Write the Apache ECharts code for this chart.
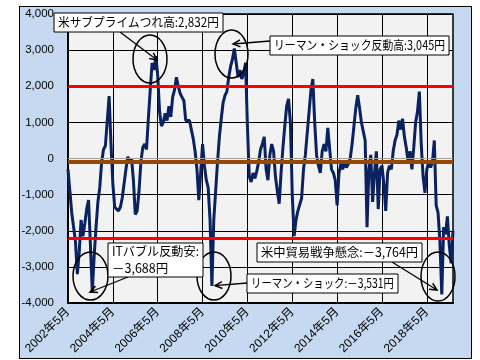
<!DOCTYPE html>
<html><head><meta charset="utf-8">
<script src="https://cdn.jsdelivr.net/npm/echarts@6/dist/echarts.min.js"></script>
<style>
html,body{margin:0;padding:0;background:#fff;}
#frame{position:absolute;left:19px;top:6px;width:451px;height:351px;border:1px solid #000;background:#c6d9f1;}
#chart{position:absolute;left:0;top:0;width:480px;height:360px;}
</style></head><body>
<div id="frame"></div><div id="chart"></div>
<script>
// ---- data ----
const startYear = 2002, startMonth = 5;   // first category: 2002年5月
const values = [
-300,-900,-1500,-1900,-2300,-3200,-2600,-1700,-2150,-1800,
-1400,-1150,-2400,-3688,-2700,-1900,-1200,-800,-100,250,
350,400,1730,400,-700,-1350,-1400,-1450,-1350,-1100,
-700,-300,50,-100,0,-600,-1550,-1450,-900,-100,
300,400,250,1100,1900,2650,2450,2832,2300,1300,
900,1000,1250,1050,1450,1150,1700,1900,2250,2000,
1800,1700,1600,1050,1000,1050,800,550,200,-300,
-1150,-400,400,-200,-600,-800,-1700,-3531,-1700,-900,
-100,600,1100,1550,1750,1850,2250,2550,2750,3045,
2650,2250,2450,2200,2350,2650,900,-500,-650,-400,
-550,-350,-100,250,400,600,-300,-600,100,400,
200,-500,-900,-1250,-400,300,900,1450,1650,1000,
-1000,-2150,-1700,-1450,-1450,-1100,-300,100,700,1300,
1900,2200,1000,100,-200,-400,200,400,200,850,
800,-300,-400,-600,-1300,-400,-150,-300,-100,-250,
-150,0,400,900,1400,1750,1400,1000,950,500,
-1900,-300,100,-1200,-400,200,-1400,-300,-200,-700,
-1450,-400,-200,-300,200,500,650,1050,800,1100,
600,300,-100,200,-300,300,1000,1300,1850,400,
-500,-950,-300,-100,-250,-100,500,-1300,-1500,-2300,
-3764,-1900,-2100,-1600,-2400,-2900,-2000
];
const meanValue = -100;
const upperBand = 2000;
const lowerBand = -2200;
const yMin = -4000, yMax = 4000, yStep = 1000;
const annotationTexts = [
  ['米サブプライムつれ高:2,832円'],
  ['リーマン・ショック反動高:3,045円'],
  ['ITバブル反動安:', '－3,688円'],
  ['リーマン・ショック:－3,531円'],
  ['米中貿易戦争懸念:－3,764円']
];

// ---- categories ----
const months = [];
for (let k = 0; k < values.length; k++) {
  const m = startMonth - 1 + k;
  months.push((startYear + Math.floor(m / 12)) + '年' + (m % 12 + 1) + '月');
}

// ---- layout of annotations (pixels) ----
const boxes = [
  {x:54, y:13, w:169, h:19, fs:12.5},
  {x:270, y:36, w:179, h:19, fs:12.5},
  {x:108, y:243, w:95, h:34, fs:12.5},
  {x:247, y:274, w:151, h:19, fs:12.5},
  {x:257, y:243, w:165, h:19, fs:12.5}
];
const ellipses = [
  {cx:150, cy:59, rx:17, ry:24},
  {cx:231.5, cy:54, rx:16.5, ry:24},
  {cx:90.5, cy:276, rx:17.5, ry:24},
  {cx:214, cy:276, rx:17, ry:24},
  {cx:438, cy:276.5, rx:17, ry:24.5}
];
const arrows = [
  [120,32,157,60],
  [270,41,233,44],
  [128,277,90,292],
  [247,283,215,285.7],
  [392,262,437,290]
];

const FONT = "'Liberation Sans','Noto Sans CJK JP',sans-serif";
const JFONT = "'Noto Sans CJK JP','Liberation Sans',sans-serif";
const mctx = document.createElement('canvas').getContext('2d');

const g = [];
ellipses.forEach(e => g.push({type:'ellipse', z:100, shape:e, style:{fill:null, stroke:'#000', lineWidth:1.5}}));
arrows.forEach(a => {
  const [x1,y1,x2,y2] = a;
  const ang = Math.atan2(y2-y1, x2-x1), L = 8, w = 0.45;
  g.push({type:'line', z:101, shape:{x1,y1,x2,y2}, style:{stroke:'#000', lineWidth:1.3}});
  g.push({type:'polyline', z:101, shape:{points:[
    [x2 - L*Math.cos(ang-w), y2 - L*Math.sin(ang-w)], [x2,y2],
    [x2 - L*Math.cos(ang+w), y2 - L*Math.sin(ang+w)]]},
    style:{stroke:'#000', lineWidth:1.5, fill:null}});
});
boxes.forEach((b, k) => {
  g.push({type:'rect', z:102, shape:{x:b.x, y:b.y, width:b.w, height:b.h}, style:{fill:'#fff', stroke:'#000', lineWidth:1}});
  const lines = annotationTexts[k];
  const font = b.fs + 'px ' + JFONT;
  mctx.font = font;
  lines.forEach((t, j) => {
    const cy = b.y + (b.h / lines.length) * (j + 0.5);
    const tw = mctx.measureText(t).width;
    const sc = Math.min(1, (b.w - 8) / tw);
    g.push({type:'text', z:103, x:b.x + 4, y:cy, scaleX:sc,
      style:{text:t, fill:'#000', font:font, verticalAlign:'middle', align:'left'}});
  });
});

const chart = echarts.init(document.getElementById('chart'), null, {renderer:'canvas'});
chart.setOption({
  animation:false,
  backgroundColor:'transparent',
  grid:{left:68, top:14, right:27, bottom:57, show:true, backgroundColor:'#f2f2f2', borderColor:'#000', borderWidth:1.5},
  xAxis:{
    type:'category', data:months, boundaryGap:false,
    axisLine:{show:true, onZero:false, lineStyle:{color:'#000', width:2}},
    axisTick:{show:false},
    axisLabel:{interval:23, rotate:45, fontSize:12, color:'#000', fontFamily:FONT, margin:7},
    splitLine:{show:true, interval:23, lineStyle:{color:'#000', width:1}}
  },
  yAxis:{
    type:'value', min:yMin, max:yMax, interval:yStep,
    axisLine:{show:true, lineStyle:{color:'#000', width:2}},
    axisTick:{show:false},
    axisLabel:{fontSize:11.5, color:'#000', fontFamily:FONT, margin:14,
      formatter:v => v.toLocaleString('en-US')},
    splitLine:{show:true, lineStyle:{color:'#000', width:1}}
  },
  series:[
    {type:'line', data:values, symbol:'none', z:3,
     lineStyle:{color:'#0a2260', width:3}},
    {type:'line', data:[], z:5, symbol:'none',
     markLine:{silent:true, symbol:['none','none'], label:{show:false},
       data:[
         {yAxis:0, lineStyle:{color:'#a0a0a0', width:1, type:'solid'}},
         {yAxis:meanValue, lineStyle:{color:'#974706', width:4, type:'solid'}},
         {yAxis:upperBand, lineStyle:{color:'#ff0000', width:3, type:'solid'}},
         {yAxis:lowerBand, lineStyle:{color:'#ff0000', width:3, type:'solid'}}
       ]}}
  ],
  graphic:g
});
</script>
</body></html>
